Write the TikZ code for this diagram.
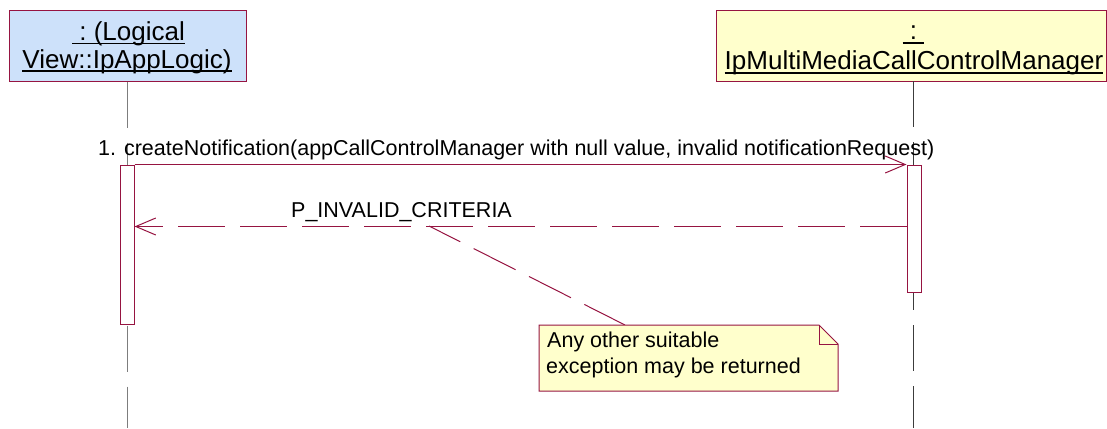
\documentclass[tikz,border=0pt]{standalone}
\usepackage{fontspec}
\setmainfont{Liberation Sans}
\usetikzlibrary{arrows.meta}
\definecolor{rose}{RGB}{150,20,65}
\definecolor{lifegrayA}{RGB}{125,125,125}
\definecolor{lifegrayB}{RGB}{60,60,60}
\definecolor{bluefill}{RGB}{205,225,250}
\definecolor{yellowfill}{RGB}{255,255,204}
\newcommand\myul[1]{\setbox0\hbox{#1}\rlap{\vrule height -2.4pt depth 3.9pt width \wd0}\box0}
\tikzset{
  objbox/.style={draw=rose, line width=1pt, inner sep=0pt},
  hdr/.style={inner sep=0pt, anchor=base, font=\fontsize{26}{30}\selectfont},
  small/.style={inner sep=0pt, anchor=base west, font=\fontsize{21.5}{26}\selectfont},
  lifeline/.style={line width=1pt, dash pattern=on 46pt off 15pt},
  actbox/.style={draw=rose, fill=white, line width=1pt, minimum width=14pt, inner sep=0pt},
  msg/.style={draw=rose, line width=1pt, -{Straight Barb[length=20pt,width=17pt]}},
  ret/.style={draw=rose, line width=1pt, dash pattern=on 47pt off 15pt, -{Straight Barb[length=20pt,width=17pt]}},
  noteline/.style={draw=rose, line width=1pt, dash pattern=on 47pt off 15pt, dash phase=12pt},
  notebox/.style={draw=rose, fill=yellowfill, line width=1pt, line join=miter}
}
\begin{document}
\begin{tikzpicture}[x=1pt,y=-1pt]
\useasboundingbox (0,0) rectangle (1107,428);
% object boxes
\node[objbox, fill=bluefill, minimum width=237pt, minimum height=70pt] (A) at (127.5,46) {};
\node[objbox, fill=yellowfill, minimum width=390pt, minimum height=70pt] (B) at (911,46) {};
% lifelines
\coordinate (Ab) at (127.5,428);
\coordinate (Bt) at (913,81);
\coordinate (Bb) at (913,428);
\draw[lifeline, lifegrayA] (A.south) -- (Ab);
\draw[lifeline, lifegrayB] (Bt) -- (Bb);
% header texts
\node[hdr] (A1) at (128.5,40.5) {\myul{\ :\ (Logical}};
\node[hdr] (A2) at (127,68) {\myul{View::IpAppLogic)}};
\node[hdr] (B1) at (913.5,40) {\myul{\ :\ }};
\node[hdr] (B2) at (914,70) {\myul{IpMultiMediaCallControlManager}};
% activations
\node[actbox, minimum height=159pt] (AL) at (127,244.5) {};
\node[actbox, minimum height=127pt] (AR) at (914,228.5) {};
% messages
\draw[msg] (AL.north east) -- (AR.north west);
\node[small] (m1) at (98,155) {1. createNotification(appCallControlManager with null value, invalid notificationRequest)};
\draw[ret] ([yshift=-62pt]AR.north west) -- ([yshift=-62pt]AL.north east);
\node[small] (m2) at (291,217) {P\_INVALID\_CRITERIA};
% note
\coordinate (nA) at (539,325);
\coordinate (nB) at (819,325);
\coordinate (nC) at (838,344);
\coordinate (nD) at (838,391);
\coordinate (nE) at (539,391);
\coordinate (nF) at (819,344);
\draw[noteline] (429,226) coordinate (c1) -- (625,325) coordinate (c2);
\draw[notebox] (nA) -- (nB) -- (nC) -- (nD) -- (nE) -- cycle;
\draw[draw=rose, line width=1pt] (nB) -- (nF) -- (nC);
\node[small] (n1) at (547,347) {Any other suitable};
\node[small] (n2) at (546,373) {exception may be returned};
\end{tikzpicture}
\end{document}
